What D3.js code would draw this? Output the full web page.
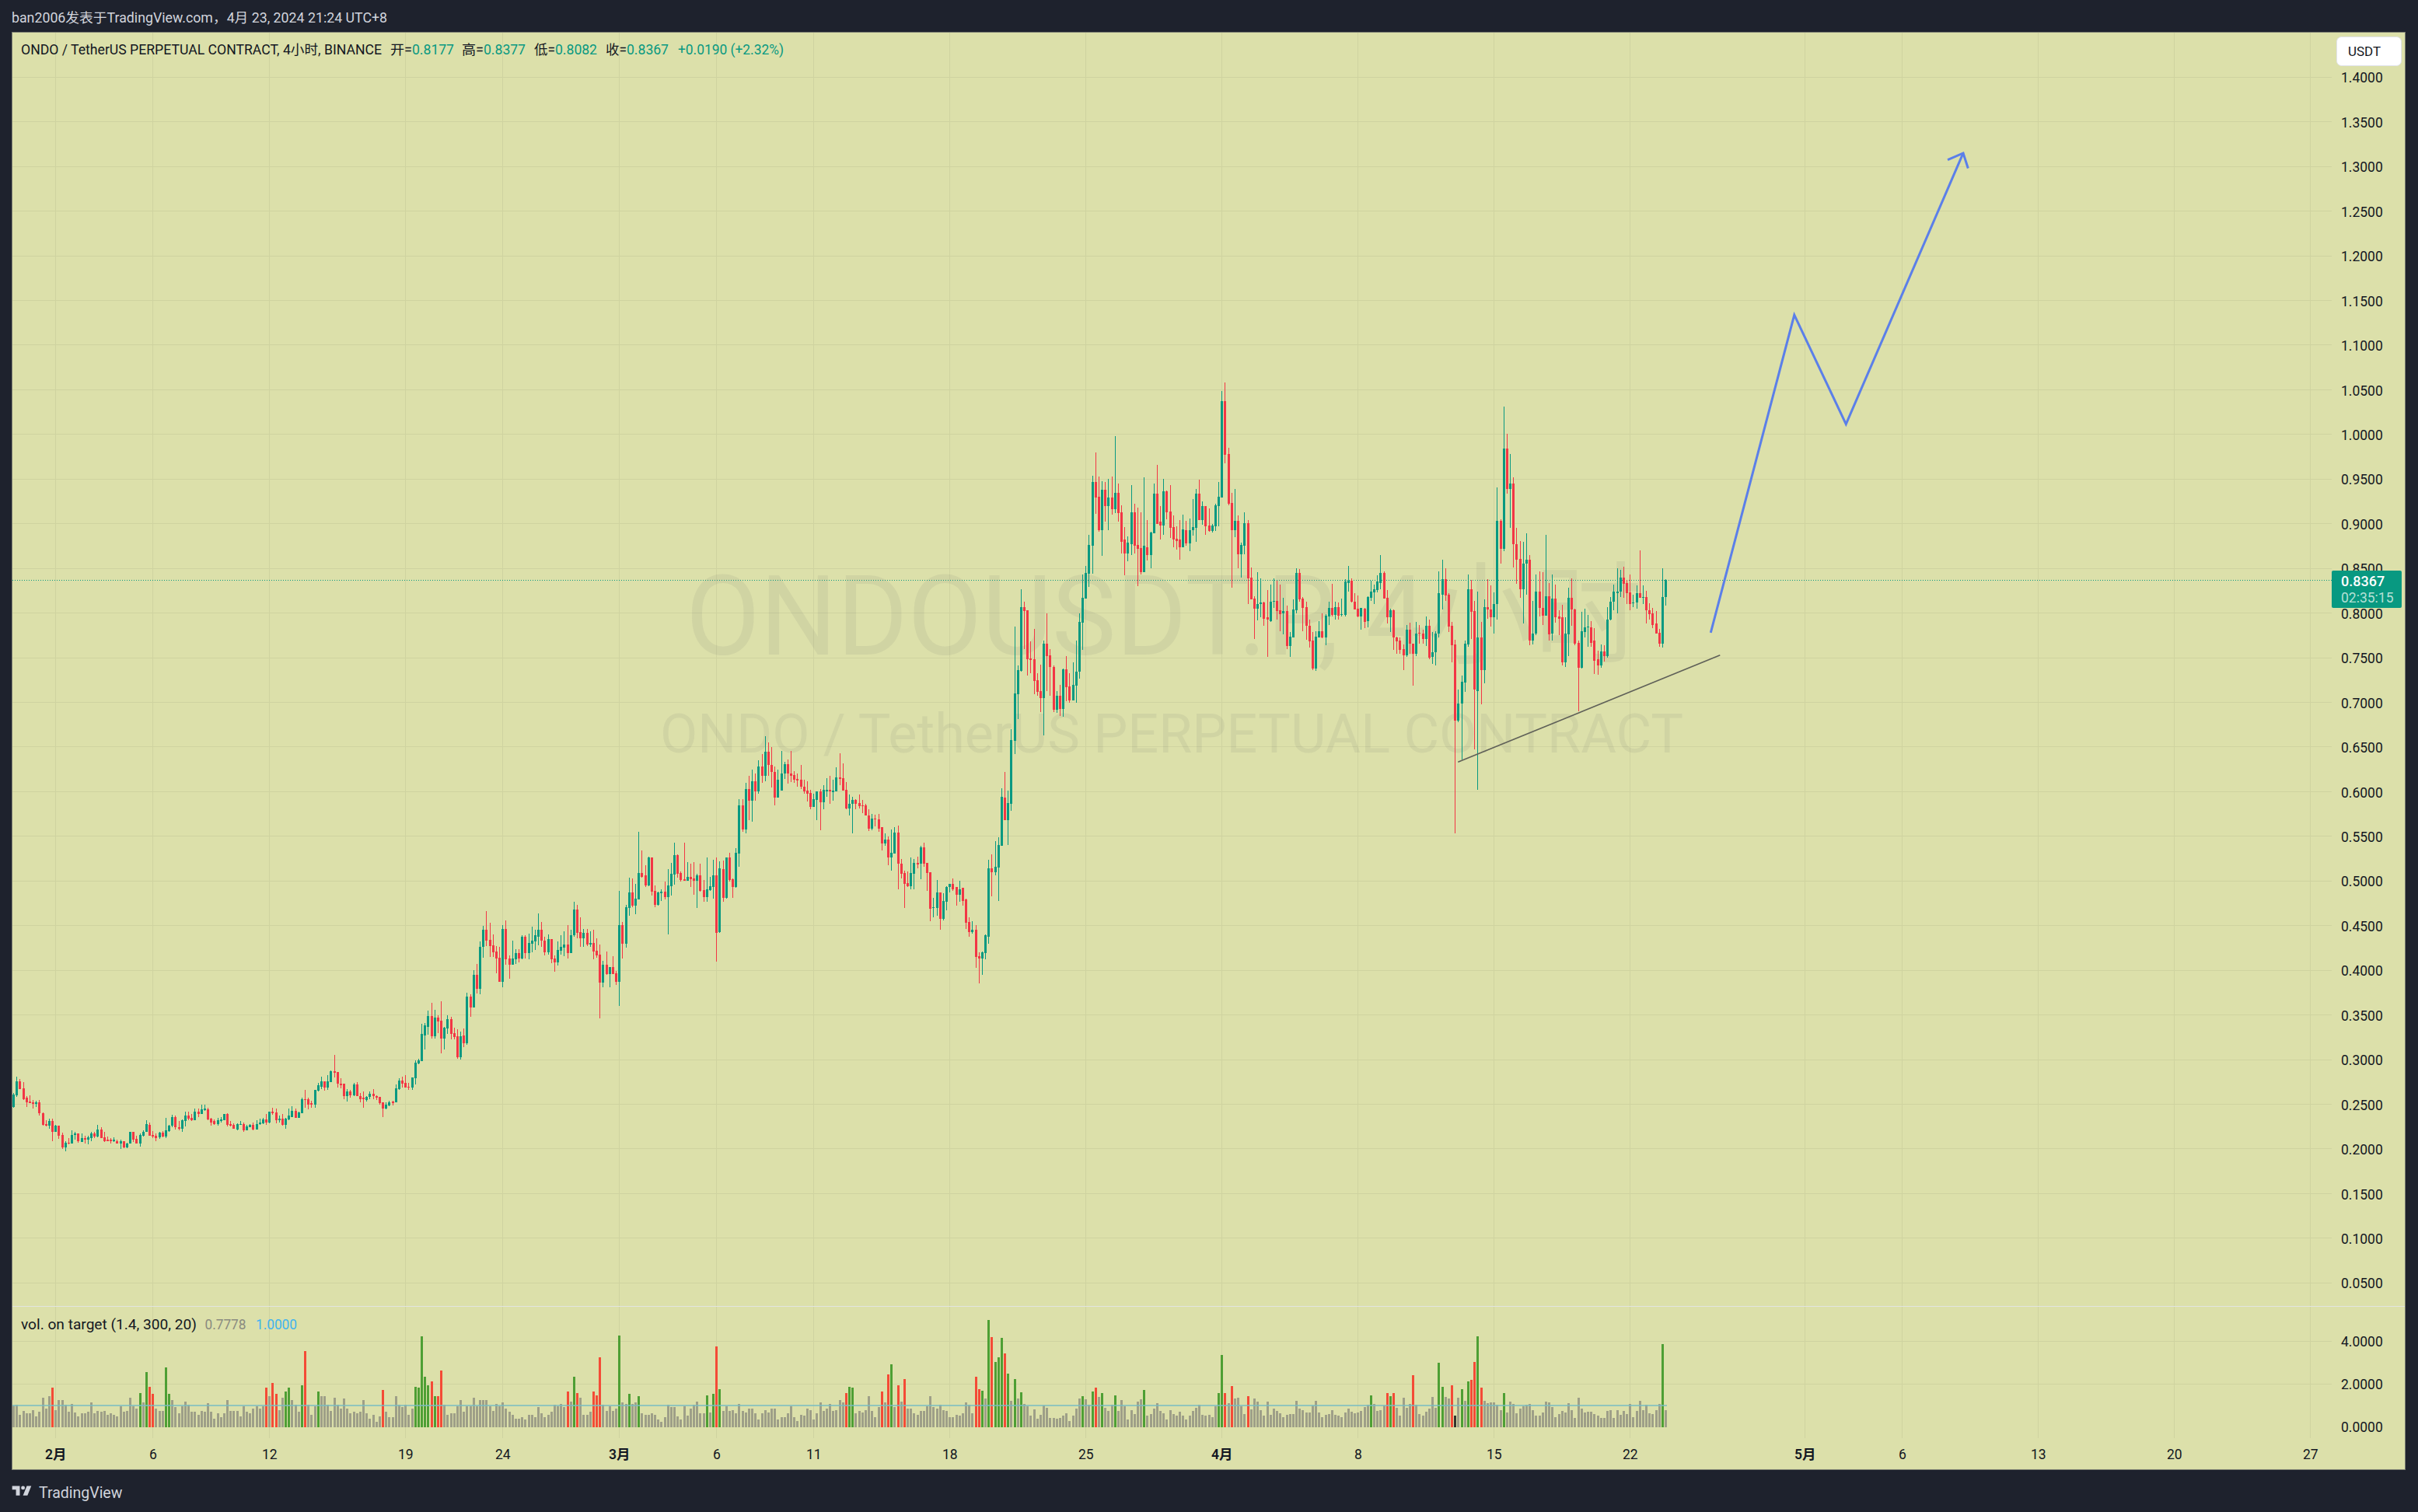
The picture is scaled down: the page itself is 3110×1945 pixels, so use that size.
<!DOCTYPE html>
<html><head><meta charset="utf-8"><title>ONDOUSDT.P</title>
<script src="https://cdn.jsdelivr.net/npm/d3@7/dist/d3.min.js"></script>
<style>html,body{margin:0;padding:0;background:#1e222d}svg{display:block}text{font-family:Roboto,"Noto Sans CJK SC",sans-serif}</style>
</head><body><svg id="c" width="3110" height="1945"></svg>
<script>
const opens=[.247,.260,.276,.268,.257,.253,.252,.251,.252,.240,
.228,.226,.231,.219,.226,.216,.202,.207,.206,.216,
.217,.208,.212,.210,.212,.217,.214,.222,.213,.210,
.210,.209,.209,.206,.209,.202,.206,.219,.211,.206,
.215,.219,.227,.216,.215,.213,.218,.214,.220,.226,
.236,.224,.223,.231,.237,.235,.232,.242,.239,.244,
.244,.234,.231,.228,.232,.232,.239,.228,.227,.222,
.227,.228,.221,.224,.227,.222,.228,.229,.233,.230,
.242,.241,.232,.234,.227,.233,.236,.243,.235,.240,
.256,.256,.251,.250,.265,.270,.276,.269,.275,.287,
.286,.273,.273,.259,.264,.260,.272,.259,.257,.255,
.258,.262,.259,.258,.252,.245,.249,.253,.252,.267,
.277,.274,.270,.269,.279,.296,.298,.327,.337,.349,
.326,.347,.344,.324,.335,.345,.330,.326,.303,.327,
.318,.371,.358,.395,.379,.426,.445,.434,.428,.421,
.414,.387,.446,.413,.406,.412,.419,.413,.438,.419,
.430,.432,.438,.445,.433,.420,.435,.413,.409,.422,
.425,.429,.419,.439,.468,.443,.436,.442,.429,.431,
.422,.418,.386,.406,.396,.404,.397,.387,.451,.430,
.470,.487,.472,.479,.509,.506,.495,.526,.489,.473,
.486,.488,.482,.494,.507,.529,.509,.502,.500,.505,
.503,.500,.506,.490,.482,.490,.493,.506,.443,.513,
.481,.526,.502,.493,.531,.585,.558,.603,.590,.612,
.600,.628,.618,.645,.630,.622,.593,.601,.620,.631,
.620,.619,.614,.613,.606,.601,.599,.583,.591,.600,
.588,.601,.602,.600,.600,.616,.615,.602,.581,.586,
.591,.587,.585,.585,.573,.559,.570,.569,.560,.542,
.546,.526,.531,.554,.519,.509,.498,.494,.508,.520,
.519,.538,.520,.510,.470,.470,.487,.458,.477,.493,
.497,.493,.485,.492,.479,.454,.443,.445,.416,.413,
.419,.438,.514,.510,.515,.539,.593,.568,.586,.657,
.709,.735,.807,.803,.749,.748,.725,.713,.705,.766,
.753,.740,.692,.707,.693,.737,.718,.702,.719,.734,
.789,.816,.844,.875,.947,.930,.893,.938,.920,.929,
.916,.935,.913,.882,.867,.877,.913,.876,.873,.846,
.874,.865,.889,.934,.902,.898,.936,.914,.896,.883,
.882,.874,.893,.878,.893,.895,.934,.904,.920,.898,
.892,.897,.920,.929,1.037,.978,.923,.893,.903,.866,
.875,.901,.840,.816,.805,.810,.812,.795,.791,.813,
.814,.803,.800,.802,.763,.773,.803,.845,.816,.807,
.786,.769,.738,.773,.780,.773,.796,.806,.798,.807,
.798,.798,.834,.836,.813,.805,.796,.805,.791,.817,
.823,.826,.834,.845,.817,.795,.803,.773,.769,.760,
.753,.781,.766,.754,.778,.777,.771,.786,.751,.756,
.777,.821,.838,.821,.786,.765,.680,.699,.722,.765,
.827,.802,.713,.773,.736,.807,.804,.795,.810,.903,
.872,.984,.939,.945,.877,.861,.827,.855,.860,.769,
.777,.824,.806,.797,.819,.777,.816,.796,.795,.745,
.776,.817,.804,.767,.739,.779,.784,.784,.769,.748,
.741,.757,.752,.793,.813,.823,.824,.840,.834,.823,
.811,.812,.822,.817,.818,.803,.800,.788,.778,.766,.8177];
const closes=[.261,.276,.267,.256,.252,.251,.251,.252,.240,.227,
.226,.231,.219,.226,.215,.202,.207,.206,.216,.217,
.209,.212,.210,.213,.217,.214,.222,.212,.209,.209,
.209,.210,.206,.209,.202,.206,.219,.210,.206,.216,
.219,.228,.215,.214,.212,.218,.214,.221,.226,.236,
.224,.223,.232,.237,.234,.232,.242,.239,.244,.245,
.233,.230,.228,.232,.233,.239,.227,.226,.223,.228,
.228,.221,.225,.227,.222,.228,.230,.233,.230,.242,
.240,.232,.234,.227,.234,.237,.243,.235,.241,.256,
.255,.250,.250,.266,.271,.276,.269,.276,.287,.286,
.273,.272,.259,.264,.260,.272,.259,.256,.256,.258,
.262,.259,.257,.251,.245,.250,.252,.252,.268,.277,
.273,.269,.269,.280,.297,.299,.329,.338,.349,.326,
.347,.343,.324,.336,.345,.329,.325,.303,.326,.318,
.371,.358,.395,.379,.426,.445,.433,.427,.420,.413,
.387,.446,.412,.406,.413,.419,.413,.438,.419,.431,
.433,.439,.445,.433,.420,.435,.412,.409,.423,.426,
.429,.419,.439,.468,.442,.436,.442,.429,.431,.421,
.417,.386,.406,.396,.404,.396,.387,.451,.430,.471,
.487,.472,.480,.509,.505,.495,.526,.488,.473,.487,
.488,.482,.495,.508,.529,.508,.501,.501,.505,.502,
.500,.506,.489,.482,.491,.494,.506,.442,.514,.481,
.526,.501,.493,.532,.585,.558,.603,.590,.612,.600,
.628,.618,.645,.630,.622,.593,.613,.620,.631,.620,
.618,.613,.613,.606,.600,.598,.583,.592,.600,.588,
.602,.602,.601,.601,.616,.614,.601,.581,.586,.591,
.586,.584,.584,.573,.559,.570,.569,.559,.542,.546,
.526,.532,.554,.519,.508,.497,.494,.509,.520,.519,
.538,.519,.509,.469,.471,.487,.458,.478,.493,.497,
.491,.485,.491,.478,.453,.443,.445,.415,.413,.420,
.439,.514,.510,.516,.540,.594,.568,.587,.658,.710,
.736,.807,.802,.748,.748,.724,.712,.705,.766,.752,
.740,.692,.707,.693,.737,.717,.702,.720,.734,.790,
.817,.845,.876,.947,.929,.893,.938,.920,.929,.916,
.935,.912,.880,.867,.879,.913,.875,.872,.846,.875,
.865,.890,.934,.900,.898,.936,.913,.895,.882,.881,
.874,.894,.878,.893,.896,.934,.904,.920,.897,.892,
.898,.921,.930,1.037,.977,.922,.893,.903,.866,.876,
.901,.839,.815,.805,.810,.812,.794,.793,.813,.814,
.802,.799,.802,.763,.774,.804,.845,.815,.806,.786,
.768,.738,.774,.780,.773,.797,.806,.798,.807,.797,
.799,.835,.836,.813,.804,.796,.806,.790,.818,.824,
.827,.835,.845,.816,.795,.803,.773,.768,.759,.753,
.781,.766,.754,.777,.777,.771,.786,.750,.756,.777,
.822,.838,.820,.785,.764,.680,.699,.723,.766,.827,
.801,.714,.773,.736,.807,.804,.795,.810,.903,.872,
.984,.939,.945,.877,.860,.827,.855,.860,.769,.777,
.824,.806,.797,.819,.776,.816,.795,.794,.745,.777,
.817,.804,.766,.739,.780,.784,.785,.767,.747,.741,
.757,.752,.793,.813,.824,.824,.840,.833,.822,.810,
.812,.822,.817,.818,.803,.799,.787,.777,.766,.818,.8367];
const highs=[.263,.281,.278,.275,.259,.260,.255,.254,.255,.241,
.232,.234,.234,.227,.226,.218,.209,.212,.221,.219,
.217,.217,.215,.215,.219,.219,.227,.224,.219,.214,
.212,.213,.210,.210,.209,.207,.219,.219,.215,.217,
.221,.232,.230,.220,.217,.219,.220,.235,.227,.238,
.237,.231,.233,.242,.242,.239,.245,.245,.250,.250,
.246,.235,.233,.235,.236,.239,.240,.231,.229,.229,
.231,.230,.227,.228,.230,.232,.234,.235,.239,.242,
.246,.245,.237,.239,.235,.245,.248,.245,.242,.257,
.266,.257,.254,.266,.274,.281,.276,.283,.288,.305,
.286,.279,.273,.267,.266,.274,.275,.263,.264,.259,
.264,.267,.260,.258,.252,.252,.254,.254,.272,.279,
.281,.283,.274,.280,.299,.301,.340,.341,.355,.364,
.356,.350,.365,.337,.350,.348,.336,.334,.331,.335,
.375,.373,.400,.407,.432,.450,.466,.453,.440,.427,
.426,.451,.456,.417,.433,.424,.424,.439,.439,.441,
.449,.445,.464,.454,.438,.440,.435,.417,.432,.439,
.444,.451,.445,.477,.473,.459,.446,.446,.444,.445,
.436,.429,.411,.421,.404,.416,.399,.489,.454,.473,
.504,.503,.497,.555,.534,.518,.527,.526,.495,.488,
.491,.499,.513,.520,.543,.530,.511,.543,.521,.519,
.521,.508,.519,.501,.526,.505,.524,.526,.522,.523,
.526,.532,.503,.537,.592,.592,.610,.618,.625,.620,
.635,.642,.662,.655,.650,.628,.625,.646,.633,.636,
.646,.623,.620,.630,.613,.612,.602,.598,.600,.603,
.607,.615,.618,.613,.627,.643,.632,.611,.597,.594,
.592,.597,.591,.586,.580,.575,.574,.575,.560,.553,
.550,.558,.560,.562,.525,.512,.511,.526,.525,.527,
.539,.543,.520,.510,.481,.501,.487,.486,.494,.497,
.503,.493,.500,.492,.480,.459,.455,.451,.420,.421,
.440,.524,.530,.545,.549,.604,.622,.601,.670,.785,
.741,.827,.813,.803,.768,.782,.733,.742,.769,.800,
.760,.741,.713,.720,.738,.752,.733,.745,.769,.800,
.843,.853,.888,.954,.980,.953,.948,.947,.950,.953,
.998,.945,.921,.896,.886,.943,.922,.918,.913,.952,
.904,.891,.945,.966,.920,.950,.937,.943,.909,.897,
.904,.910,.903,.906,.928,.939,.949,.925,.920,.917,
.900,.922,.947,1.049,1.058,.985,.935,.939,.909,.879,
.913,.904,.851,.819,.846,.839,.813,.826,.832,.839,
.836,.832,.817,.808,.779,.815,.850,.849,.818,.813,
.793,.779,.780,.791,.800,.799,.813,.833,.813,.812,
.816,.838,.853,.839,.822,.820,.806,.806,.819,.836,
.832,.842,.865,.847,.826,.805,.804,.774,.773,.765,
.787,.789,.766,.790,.787,.781,.796,.793,.779,.780,
.847,.860,.850,.822,.790,.770,.714,.730,.769,.843,
.837,.814,.824,.790,.815,.838,.831,.823,.941,.905,
1.031,1.001,.978,.952,.895,.881,.880,.889,.865,.814,
.843,.847,.846,.888,.834,.843,.832,.803,.809,.795,
.828,.839,.805,.769,.801,.805,.798,.791,.783,.758,
.765,.764,.807,.818,.832,.850,.848,.852,.837,.843,
.821,.831,.870,.831,.825,.811,.806,.802,.782,.850,.8377];
const lows=[.246,.258,.267,.255,.247,.251,.245,.247,.237,.226,
.225,.223,.209,.219,.211,.200,.197,.205,.206,.210,
.207,.208,.206,.205,.209,.212,.213,.212,.208,.209,
.206,.208,.206,.200,.201,.201,.206,.208,.206,.203,
.214,.219,.215,.212,.209,.211,.213,.212,.219,.224,
.222,.221,.219,.225,.232,.231,.232,.236,.239,.243,
.232,.226,.227,.226,.230,.232,.225,.225,.223,.221,
.227,.219,.221,.224,.221,.222,.227,.228,.227,.229,
.238,.229,.230,.226,.223,.232,.236,.235,.235,.240,
.246,.244,.246,.246,.264,.267,.265,.266,.275,.280,
.269,.268,.256,.253,.257,.259,.259,.252,.246,.253,
.256,.256,.255,.250,.236,.244,.248,.249,.252,.266,
.269,.269,.266,.266,.272,.295,.298,.311,.328,.324,
.324,.330,.307,.311,.329,.323,.323,.301,.300,.314,
.317,.348,.358,.374,.373,.414,.427,.415,.415,.397,
.387,.381,.406,.391,.406,.407,.409,.412,.413,.412,
.420,.423,.428,.426,.417,.418,.408,.398,.405,.418,
.416,.413,.419,.438,.436,.426,.426,.427,.426,.412,
.414,.346,.381,.395,.381,.396,.384,.360,.413,.425,
.461,.471,.463,.479,.504,.493,.494,.484,.471,.472,
.478,.479,.440,.484,.496,.504,.499,.500,.500,.493,
.485,.470,.488,.477,.477,.489,.480,.410,.442,.477,
.480,.499,.481,.492,.516,.555,.553,.568,.566,.590,
.598,.610,.612,.618,.605,.585,.593,.601,.614,.609,
.611,.610,.606,.603,.598,.589,.580,.583,.568,.557,
.580,.594,.586,.590,.600,.607,.601,.580,.573,.553,
.580,.581,.576,.573,.556,.557,.561,.555,.534,.539,
.518,.512,.531,.491,.503,.470,.493,.491,.491,.514,
.502,.516,.489,.455,.459,.461,.445,.456,.467,.487,
.489,.472,.477,.472,.446,.438,.441,.403,.385,.395,
.412,.430,.483,.506,.478,.539,.568,.540,.579,.642,
.681,.734,.760,.730,.733,.709,.707,.689,.663,.713,
.707,.689,.688,.685,.684,.701,.700,.702,.700,.727,
.759,.829,.829,.844,.911,.891,.864,.902,.893,.910,
.912,.902,.867,.842,.858,.865,.867,.830,.843,.846,
.859,.850,.889,.900,.882,.888,.905,.884,.874,.871,
.860,.874,.875,.869,.887,.880,.904,.899,.888,.891,
.890,.892,.897,.929,.968,.921,.828,.885,.850,.840,
.866,.810,.815,.771,.792,.795,.786,.751,.790,.806,
.793,.780,.776,.760,.751,.773,.800,.813,.780,.770,
.761,.736,.735,.773,.772,.764,.787,.796,.793,.793,
.796,.796,.824,.812,.804,.795,.781,.783,.784,.814,
.810,.823,.827,.816,.788,.779,.759,.754,.754,.736,
.751,.754,.719,.752,.766,.766,.763,.748,.743,.741,
.773,.804,.814,.779,.745,.553,.678,.636,.712,.762,
.771,.647,.602,.698,.721,.794,.785,.777,.793,.855,
.869,.934,.895,.851,.833,.817,.788,.821,.764,.765,
.775,.796,.787,.797,.769,.769,.789,.775,.741,.740,
.752,.786,.764,.690,.738,.773,.762,.762,.732,.731,
.739,.746,.750,.792,.803,.800,.818,.817,.810,.803,
.807,.805,.817,.810,.788,.793,.783,.777,.762,.761,.8082];
const volumes=[1,1.05,.58,.76,.65,.65,.8,.5,.72,1.35,.87,1.42,1.82,.8,1.24,1.24,1.05,.72,1.09,.68,
.5,.65,.62,.72,1.16,.65,.76,.7,.76,.55,.62,.55,.5,.95,.7,.76,1.38,.98,.87,1.6,
1.16,2.58,1.89,1.53,.84,.76,.76,2.8,1.56,1.27,.91,.65,.95,1.2,1.05,.72,.7,.58,.76,.7,
1.1,.7,.4,.65,.44,.65,1.27,.76,.76,.76,.5,.95,.7,.65,.87,.95,.87,.95,1.82,1.42,
2.04,1.53,.8,1.38,1.67,1.85,1.24,1.05,.72,1.93,3.53,1.05,.55,.95,1.67,1.42,1.42,1.05,.76,1.38,
1.05,.84,1.31,.84,.65,.7,.62,.7,1.24,.65,.4,.58,.22,.5,1.71,.7,.44,.47,1.42,1.02,
.91,1.02,.58,.87,1.89,1.82,4.22,2.33,1.93,2.11,1.45,1.45,2.65,1.05,.58,.65,.65,.95,1.24,.7,
.95,.95,1.35,.95,1.27,1.27,1.27,.98,.76,1.09,.98,1.13,.87,.7,.55,.4,.4,.44,.33,.55,
.58,.47,.91,.62,.47,.55,.7,1.05,.98,1.09,.91,1.67,1.2,2.33,1.6,1.38,.55,.58,.7,1.67,
1.49,3.24,1.05,.76,.95,.76,.87,4.29,1.16,1.09,1.56,1.09,1.13,1.45,.62,.55,.55,.65,.55,.33,
.25,.47,1.05,.91,.91,.5,.33,.98,.51,.84,1.02,1.2,.65,.65,1.49,.69,1.53,3.75,1.78,.73,
.98,.76,.8,.65,1.09,.76,.69,.87,.84,.62,.36,.65,.8,.69,.87,.87,.36,.47,.47,.62,
.98,.44,.29,.58,.51,.87,.8,.33,.65,1.16,.76,.84,1.09,.73,.8,1.27,1.13,1.6,1.89,1.82,
.62,.76,.69,.8,1.42,.73,.44,.91,1.64,1.13,2.44,2.91,.91,1.93,1.2,2.25,.84,.84,.65,.58,
.73,.76,.98,1.42,.91,.87,1.05,.8,.76,.47,.44,.58,.51,.65,1.16,1.02,.62,2.33,1.78,1.7,
1.34,4.99,4.19,3.04,3.25,4.16,3.43,2.49,1.23,2.24,1.34,1.63,1.08,.98,.54,.83,.4,.58,1.01,.9,
.43,.43,.4,.43,.51,.65,.29,.51,.87,1.34,1.45,1.3,1.05,1.66,1.84,1.41,1.59,.9,.76,1.05,
1.48,.76,1.27,.98,.36,.8,.61,1.19,1.3,1.73,.54,.61,.87,1.12,.76,.65,.33,.8,.61,.51,
.72,.54,.36,.51,.76,.9,1.05,.58,.51,.58,.47,.98,1.59,3.36,1.59,1.12,1.92,1.34,1.37,.98,
.61,1.45,.83,1.34,1.19,.8,.54,1.19,.58,.87,.76,.65,.47,.58,.61,.61,1.23,.87,.8,.69,
.69,1.01,1.23,.69,.47,.58,.61,.8,.58,.51,.47,.69,.87,.72,.65,.69,.76,.94,1.05,1.48,
1.08,.76,.8,1.01,1.59,1.45,1.59,.9,.51,1.37,.9,1.08,2.42,1.05,.61,.51,.72,.87,1.41,.9,
3,1.88,1.41,1.34,1.95,.54,1.37,1.77,1.23,2.13,2.2,3.04,4.23,1.84,1.23,1.12,1.16,1.16,1.05,.8,
1.59,.69,1.19,1.08,.65,.87,.98,1.05,1.08,.8,.54,.51,.69,1.19,1.16,.94,.47,.61,.76,.69,
1.12,.8,.43,1.37,.87,.69,.72,.72,.61,.51,.43,.43,.76,.8,.43,.8,.58,.76,.61,1.08,
.47,.76,1.23,.8,1.05,.65,.61,.8,1.08,3.87,.7778];
const signalBars=[12,39,41,42,43,47,48,78,80,81,84,85,89,90,94,114,124,125,126,127,128,129,130,131,132,171,173,174,179,180,181,187,190,193,214,216,217,218,257,258,259,268,270,271,273,275,297,298,299,301,302,303,304,305,306,307,309,311,330,333,334,336,340,349,372,373,374,376,381,419,424,425,426,432,440,441,444,447,449,450,451,452,453,460,509];
const darkBars=[445];
const targetValue=1;
const priceTicks=d3.range(1,29).map(k=>k*.05);
const volumeTicks=[0,2,4];
const timeTickDates=[[1,1],[1,6],[1,12],[1,19],[1,24],[2,1],[2,6],[2,11],[2,18],[2,25],[3,1],[3,8],[3,15],[3,22],[4,1],[4,6],[4,13],[4,20],[4,27]];
const timeTickLabels=["2月","6","12","19","24","3月","6","11","18","25","4月","8","15","22","5月","6","13","20","27"];
const trendLine=[[72.16,.6332],[85.64,.7528]];
const forecastPath=[[85.16,.7781],[89.46,1.1338],[92.12,1.0116],[98.15,1.315]];
const arrowHead=[[97.35,1.3075],[98.15,1.315],[98.4,1.298]];
const lastPrice=.8367;

const H=3600e3, D=24*H, T0=Date.UTC(2024,1,1);
const x=d3.scaleUtc().domain([new Date(T0),new Date(Date.UTC(2024,4,1))]).range([71.3,2321.3]);
const y=d3.scaleLinear().domain([.05,1.4]).range([1650.3,99.3]);
const yv=d3.scaleLinear().domain([0,4]).range([1835.5,1725.5]);
const barX=i=>Math.round(x(new Date(T0+(i-13)*4*H)));
const dayX=d=>x(new Date(T0+d*D));
const UP="#089981",DN="#f23645",VG="#4e9f34",VR="#f44b36",VN="#9e9f88",BG="#dce0aa",GRID="#cfd3a0",TX="#131722";
const svg=d3.select("#c");
svg.append("rect").attr("width",3110).attr("height",1945).attr("fill","#1e222d");
const clipDefs=svg.append("defs").append("clipPath").attr("id","pane");
clipDefs.append("rect").attr("x",16).attr("y",42).attr("width",2983).attr("height",1808);
svg.append("rect").attr("x",15.5).attr("y",41.5).attr("width",3078).attr("height",1849).attr("fill",BG).attr("stroke","#7d8073");
const grid=svg.append("g").attr("shape-rendering","crispEdges").attr("stroke",GRID);
const dates=timeTickDates.map(([m,d])=>new Date(Date.UTC(2024,m,d)));
grid.selectAll(".v").data(dates).join("line").attr("x1",d=>x(d)).attr("x2",d=>x(d)).attr("y1",42).attr("y2",1850);
grid.selectAll(".h").data(priceTicks).join("line").attr("x1",16).attr("x2",2999).attr("y1",d=>y(d)).attr("y2",d=>y(d));
grid.selectAll(".hv").data(volumeTicks.slice(1)).join("line").attr("x1",16).attr("x2",2999).attr("y1",d=>yv(d)).attr("y2",d=>yv(d));
svg.append("text").attr("x",1497).attr("y",842).attr("font-size",143).attr("text-anchor","middle").attr("fill","#676767").attr("fill-opacity",.1).attr("textLength",1230).attr("lengthAdjust","spacingAndGlyphs").text("ONDOUSDT.P, 4小时");
svg.append("text").attr("x",1507).attr("y",968).attr("font-size",70).attr("text-anchor","middle").attr("fill","#676767").attr("fill-opacity",.1).attr("textLength",1316).attr("lengthAdjust","spacingAndGlyphs").text("ONDO / TetherUS PERPETUAL CONTRACT");
svg.append("line").attr("x1",16).attr("x2",2999).attr("y1",y(lastPrice)).attr("y2",y(lastPrice)).attr("stroke",UP).attr("stroke-width",1).attr("stroke-dasharray","1 2");
const candles=svg.append("g").attr("clip-path","url(#pane)").attr("shape-rendering","crispEdges");
const idx=d3.range(closes.length);
const col=i=>closes[i]>=opens[i]?UP:DN;
candles.selectAll(".w").data(idx).join("rect").attr("x",barX).attr("width",1).attr("y",i=>y(highs[i])).attr("height",i=>Math.max(1,y(lows[i])-y(highs[i]))).attr("fill",col);
candles.selectAll(".b").data(idx).join("rect").attr("x",i=>barX(i)-1).attr("width",3).attr("y",i=>y(Math.max(opens[i],closes[i]))).attr("height",i=>Math.max(1.5,Math.abs(y(opens[i])-y(closes[i])))).attr("fill",col);
const vols=svg.append("g").attr("clip-path","url(#pane)").attr("shape-rendering","crispEdges");
const sig=new Set(signalBars),dark=new Set(darkBars);
vols.selectAll("rect").data(idx).join("rect").attr("x",i=>barX(i)-1).attr("width",3).attr("y",i=>yv(volumes[i])).attr("height",i=>yv(0)-yv(volumes[i]))
 .attr("fill",i=>dark.has(i)?"#33352c":sig.has(i)?(closes[i]>=opens[i]?VG:VR):VN);
svg.append("line").attr("x1",16).attr("x2",barX(510)+2).attr("y1",yv(targetValue)).attr("y2",yv(targetValue)).attr("stroke","#79bcc2").attr("stroke-width",1.5);
svg.append("line").attr("x1",16).attr("x2",3093).attr("y1",1680.5).attr("y2",1680.5).attr("stroke","#e3e5e0").attr("stroke-width",1);
const ln=d3.line().x(d=>dayX(d[0])).y(d=>y(d[1]));
svg.append("path").attr("d",ln(trendLine)).attr("fill","none").attr("stroke","#5f6058").attr("stroke-width",1.6);
svg.append("path").attr("d",ln(forecastPath)).attr("fill","none").attr("stroke","#5b7fe9").attr("stroke-width",3).attr("stroke-linejoin","miter");
svg.append("path").attr("d",ln(arrowHead)).attr("fill","none").attr("stroke","#5b7fe9").attr("stroke-width",3);
const styleAxis=(g,fs)=>{g.select(".domain").remove();g.selectAll("text").attr("fill",TX).attr("font-size",fs).attr("font-family",'Roboto,"Noto Sans CJK SC",sans-serif')};
svg.append("g").attr("transform","translate(3011,1)").call(d3.axisRight(y).tickValues(priceTicks).tickSize(0).tickPadding(0).tickFormat(d3.format(".4f"))).call(styleAxis,17.5);
svg.append("g").attr("transform","translate(3011,0)").call(d3.axisRight(yv).tickValues(volumeTicks).tickSize(0).tickPadding(0).tickFormat(d3.format(".4f"))).call(styleAxis,17.5);
svg.append("g").attr("transform","translate(0,1859)").call(d3.axisBottom(x).tickValues(dates).tickSize(0).tickPadding(6).tickFormat((d,i)=>timeTickLabels[i])).call(styleAxis,17.5)
 .selectAll("text").attr("font-weight",(d,i)=>/月/.test(timeTickLabels[i])?600:400);
// price tag
svg.append("rect").attr("x",2999).attr("y",734).attr("width",90).attr("height",48).attr("rx",2).attr("fill",UP);
svg.append("text").attr("x",3011).attr("y",y(lastPrice)+8).attr("font-size",18).attr("fill","#fff").attr("font-weight",500).text(d3.format(".4f")(lastPrice));
svg.append("text").attr("x",3011).attr("y",775).attr("font-size",17.5).attr("fill","#b5e0d6").text("02:35:15");
svg.append("rect").attr("x",3005.5).attr("y",47.5).attr("width",83).attr("height",37).attr("rx",6).attr("fill","#fff").attr("stroke","#e0e3eb");
svg.append("text").attr("x",3020).attr("y",72).attr("font-size",17).attr("fill",TX).text("USDT");
// header / legends
svg.append("text").attr("x",15).attr("y",29).attr("font-size",17.5).attr("fill","#d1d4dc").attr("textLength",483).attr("lengthAdjust","spacingAndGlyphs").text("ban2006发表于TradingView.com，4月 23, 2024 21:24 UTC+8");
const leg=[[27,"ONDO / TetherUS PERPETUAL CONTRACT, 4小时, BINANCE",TX,464],[502,"开=",TX,28],[530,"0.8177",UP,54],[594,"高=",TX,28],[622,"0.8377",UP,54],[687,"低=",TX,27],[714,"0.8082",UP,54],[779,"收=",TX,27],[806,"0.8367",UP,54],[872,"+0.0190 (+2.32%)",UP,136]];
svg.selectAll(".leg").data(leg).join("text").attr("x",d=>d[0]).attr("y",70).attr("font-size",17.5).attr("fill",d=>d[2]).attr("textLength",d=>d[3]).attr("lengthAdjust","spacingAndGlyphs").text(d=>d[1]);
const leg2=[[27,"vol. on target (1.4, 300, 20)",TX,226],[263.5,"0.7778","#8a8b80",53],[329,"1.0000","#3fb4ee",53]];
svg.selectAll(".leg2").data(leg2).join("text").attr("x",d=>d[0]).attr("y",1710).attr("font-size",17.5).attr("fill",d=>d[2]).attr("textLength",d=>d[3]).attr("lengthAdjust","spacingAndGlyphs").text(d=>d[1]);
svg.append("path").attr("transform","translate(14,1906.5) scale(.82)").attr("fill","#d1d4dc").attr("d","M14 6H2v6h6v9h6V6zm12 15h-7l6-15h7l-6 15zm-7-9a3 3 0 1 0 0-6 3 3 0 0 0 0 6z");
svg.append("text").attr("x",50).attr("y",1927).attr("font-size",19.5).attr("fill","#d1d4dc").text("TradingView");
</script></body></html>
